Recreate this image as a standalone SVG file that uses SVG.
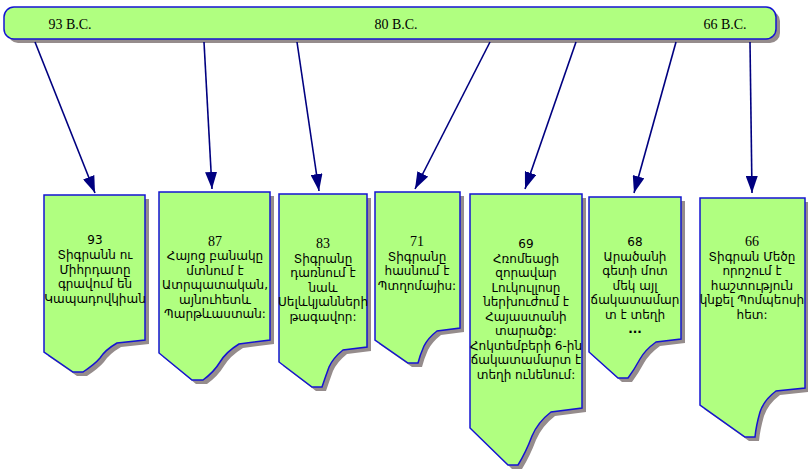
<svg xmlns="http://www.w3.org/2000/svg" width="808" height="469" viewBox="0 0 808 469">
<defs>
<marker id="ah" markerUnits="userSpaceOnUse" markerWidth="18" markerHeight="12" viewBox="0 0 18 12" refX="17" refY="6" orient="auto">
<path d="M0,0 L17,6 L0,12 Z" fill="#000080"/>
</marker>
</defs>
<style>
.sh{fill:#958c8c;stroke:none}
.bx{fill:#b0ff80;stroke:#1414d2;stroke-width:1.5}
.cn{stroke:#000080;stroke-width:1.6;fill:none;marker-end:url(#ah)}
.t{font-family:"DejaVu Sans","Noto Sans",sans-serif;font-size:12px;fill:#000;text-anchor:middle}
.s{font-family:"Liberation Serif","Times New Roman",serif;font-size:14px;fill:#000;text-anchor:middle}
.n{font-family:"DejaVu Sans",sans-serif;font-size:12px;fill:#000;text-anchor:middle}
</style>
<rect width="808" height="469" fill="#fff"/>
<g id="timeline">
<rect class="sh" x="8" y="11" width="772" height="32" rx="10"/>
<rect class="bx" x="4" y="7" width="772" height="32" rx="10"/>
<text class="s" x="70" y="29" font-size="15">93 B.C.</text>
<text class="s" x="396" y="29" font-size="15">80 B.C.</text>
<text class="s" x="725" y="29" font-size="15">66 B.C.</text>
</g>
<g id="connectors">
<line class="cn" x1="35" y1="42" x2="95" y2="193"/>
<line class="cn" x1="204" y1="42" x2="212" y2="189"/>
<line class="cn" x1="297" y1="42" x2="319" y2="191"/>
<line class="cn" x1="490" y1="42" x2="415" y2="189"/>
<line class="cn" x1="576" y1="42" x2="525" y2="189"/>
<line class="cn" x1="676" y1="42" x2="634" y2="193"/>
<line class="cn" x1="750" y1="42" x2="752" y2="193"/>
</g>
<g id="n93">
<path class="sh" transform="translate(4,4)" d="M44,195 H145 V340 L117,343 Q105,350 100,358 Q95,364 83,372 H73 L44,352 Z"/>
<path class="bx" d="M44,195 H145 V340 L117,343 Q105,350 100,358 Q95,364 83,372 H73 L44,352 Z"/>
<text class="n" x="95" y="244">93</text>
<text class="t" x="95" y="259">Տիգրանն ու</text>
<text class="t" x="95" y="274">Միհրդատը</text>
<text class="t" x="95" y="288">գրավում են</text>
<text class="t" x="95" y="303">Կապադովկիան</text>
</g>
<g id="n87">
<path class="sh" transform="translate(4,4)" d="M159,192 H270 V340 L239,344 Q226,352 220,362 Q214,372 203,380 H192 L159,353 Z"/>
<path class="bx" d="M159,192 H270 V340 L239,344 Q226,352 220,362 Q214,372 203,380 H192 L159,353 Z"/>
<text class="s" x="215" y="246">87</text>
<text class="t" x="215" y="260">Հայոց բանակը</text>
<text class="t" x="215" y="275">մտնում է</text>
<text class="t" x="215" y="289">Ատրպատական,</text>
<text class="t" x="215" y="304">այնուհետև</text>
<text class="t" x="215" y="318">Պարթևաստան:</text>
</g>
<g id="n83">
<path class="sh" transform="translate(4,4)" d="M279,194 H367 V347 L343,350 Q333,358 329,367 Q325,378 322,387 H312 L279,362 Z"/>
<path class="bx" d="M279,194 H367 V347 L343,350 Q333,358 329,367 Q325,378 322,387 H312 L279,362 Z"/>
<text class="s" x="323" y="248">83</text>
<text class="t" x="323" y="263">Տիգրանը</text>
<text class="t" x="323" y="277">դառնում է</text>
<text class="t" x="323" y="292">նաև</text>
<text class="t" x="323" y="306">Սելևկյանների</text>
<text class="t" x="323" y="321">թագավոր:</text>
</g>
<g id="n71">
<path class="sh" transform="translate(4,4)" d="M375,192 H460 V328 L437,331 Q428,338 424,346 Q420,355 418,363 H408 L375,340 Z"/>
<path class="bx" d="M375,192 H460 V328 L437,331 Q428,338 424,346 Q420,355 418,363 H408 L375,340 Z"/>
<text class="s" x="417" y="246">71</text>
<text class="t" x="417" y="261">Տիգրանը</text>
<text class="t" x="417" y="275">հասնում է</text>
<text class="t" x="417" y="290">Պտղոմայիս:</text>
</g>
<g id="n69">
<path class="sh" transform="translate(4,4)" d="M470,194 H582 V408 L551,412 Q538,422 532,436 Q526,452 518,465 H508 L470,428 Z"/>
<path class="bx" d="M470,194 H582 V408 L551,412 Q538,422 532,436 Q526,452 518,465 H508 L470,428 Z"/>
<text class="n" x="526" y="248">69</text>
<text class="t" x="526" y="263">Հռոմեացի</text>
<text class="t" x="526" y="277">զորավար</text>
<text class="t" x="526" y="292">Լուկուլլոսը</text>
<text class="t" x="526" y="306">ներխուժում է</text>
<text class="t" x="526" y="321">Հայաստանի</text>
<text class="t" x="526" y="335">տարածք:</text>
<text class="t" x="526" y="350">Հոկտեմբերի 6-ին</text>
<text class="t" x="526" y="364">ճակատամարտ է</text>
<text class="t" x="526" y="379">տեղի ունենում:</text>
</g>
<g id="n68">
<path class="sh" transform="translate(4,4)" d="M589,197 H681 V339 L656,342 Q645,350 640,359 Q634,370 628,378 H618 L589,352 Z"/>
<path class="bx" d="M589,197 H681 V339 L656,342 Q645,350 640,359 Q634,370 628,378 H618 L589,352 Z"/>
<text class="n" x="635" y="246">68</text>
<text class="t" x="635" y="261">Արածանի</text>
<text class="t" x="635" y="275">գետի մոտ</text>
<text class="t" x="635" y="290">մեկ այլ</text>
<text class="t" x="635" y="304">ճակատամար</text>
<text class="t" x="635" y="319">տ է տեղի</text>
<text class="t" x="635" y="333" font-weight="bold">...</text>
</g>
<g id="n66">
<path class="sh" transform="translate(4,4)" d="M700,198 H805 V388 L776,391 Q764,400 760,412 Q756,426 755,437 H745 L700,405 Z"/>
<path class="bx" d="M700,198 H805 V388 L776,391 Q764,400 760,412 Q756,426 755,437 H745 L700,405 Z"/>
<text class="s" x="752" y="246">66</text>
<text class="t" x="752" y="261">Տիգրան Մեծը</text>
<text class="t" x="752" y="275">որոշում է</text>
<text class="t" x="752" y="290">հաշտություն</text>
<text class="t" x="752" y="304">կնքել Պոմպեոսի</text>
<text class="t" x="752" y="319">հետ:</text>
</g>
</svg>
